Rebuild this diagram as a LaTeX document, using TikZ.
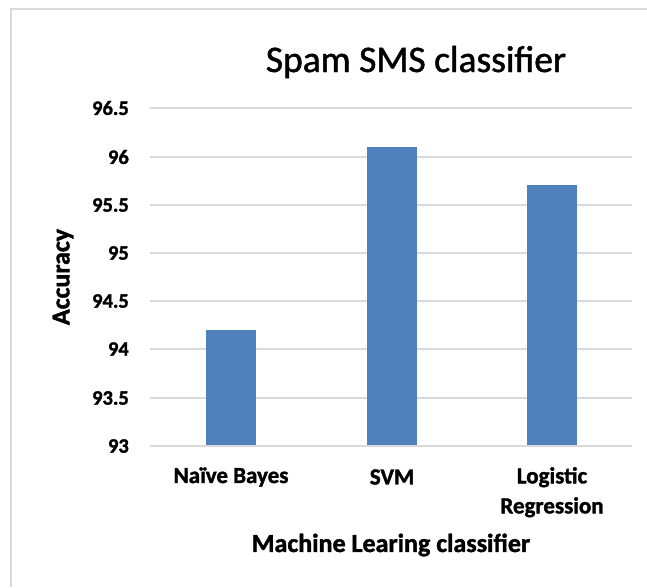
\documentclass[tikz,border=0pt]{standalone}
\usepackage{fontspec}
\setmainfont{Carlito}[BoldFeatures={FakeBold=1.5}]
\newfontfamily\titlefont{Carlito}[FakeBold=1.3]
\definecolor{barblue}{HTML}{4F81BD}
\definecolor{gridgray}{HTML}{D9D9D9}
\definecolor{framegray}{HTML}{D9D9D9}
\begin{document}
\begin{tikzpicture}[x=1pt,y=-1pt,
  gridline/.style={draw=gridgray,line width=1.5pt},
  bar/.style={fill=barblue,draw=none},
  ticklbl/.style={anchor=east,inner sep=0pt,font=\fontsize{20.5}{24}\selectfont\bfseries},
  catlbl/.style={inner sep=0pt,align=center,font=\fontsize{23}{30}\selectfont\bfseries},
  axtitle/.style={inner sep=0pt,font=\fontsize{26}{30}\selectfont\bfseries}]
\useasboundingbox (0,0) rectangle (647,587);
\fill[white] (0,0) rectangle (647,587);
% outer frame
\draw[framegray,line width=2pt] (11,587) -- (11,9) -- (647,9);
% title
\node[inner sep=0pt,font=\fontsize{37.5}{42}\titlefont] (title) at (416,62) {Spam SMS classifier};
% grid lines and tick labels
\foreach \v/\y in {93/446,93.5/398,94/349,94.5/301,95/253,95.5/205,96/157,96.5/108}{
  \draw[gridline] (150,\y) -- (632,\y);
  \node[ticklbl] (t\v) at (129,\y) {\v};
}
% bars
\fill[bar] (206,330) rectangle (256,446);
\fill[bar] (367,146.5) rectangle (417,446);
\fill[bar] (527,185) rectangle (577,446);
\draw[gridline] (150,446) -- (632,446);
% category labels
\node[catlbl] (nb) at (231,477) {Naïve Bayes};
\node[catlbl] (svm) at (392,477) {SVM};
\node[catlbl,anchor=north] (lr) at (552,467) {Logistic\\Regression};
% axis titles
\node[axtitle] (xt) at (391,545) {Machine Learing classifier};
\node[axtitle,rotate=90] (yt) at (63,277) {Accuracy};
\end{tikzpicture}
\end{document}
